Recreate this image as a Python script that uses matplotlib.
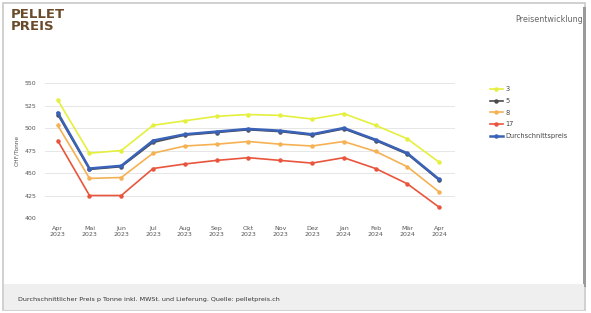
import matplotlib
matplotlib.use("Agg")
import matplotlib.pyplot as plt
from matplotlib.patches import Rectangle

months = ["Apr\n2023", "Mai\n2023", "Jun\n2023", "Jul\n2023", "Aug\n2023", "Sep\n2023",
          "Okt\n2023", "Nov\n2023", "Dez\n2023", "Jan\n2024", "Feb\n2024", "Mär\n2024", "Apr\n2024"]
s3 = [531, 472, 475, 503, 508, 513, 515, 514, 510, 516, 503, 488, 462]
s5 = [515, 454, 457, 484, 492, 495, 498, 496, 492, 499, 486, 471, 442]
s8 = [503, 444, 445, 472, 480, 482, 485, 482, 480, 485, 474, 457, 429]
s17 = [486, 425, 425, 455, 460, 464, 467, 464, 461, 467, 455, 438, 412]
avg = [517, 455, 458, 486, 493, 496, 499, 497, 493, 500, 487, 472, 443]
yticks = [400, 425, 450, 475, 500, 525, 550]

W, H = 591, 313
fig = plt.figure(figsize=(W / 100, H / 100), dpi=100)
fig.patch.set_facecolor("white")

# frame
fig.patches.append(Rectangle((3 / W, 3 / H), 582 / W, 307 / H, transform=fig.transFigure,
                             fill=False, edgecolor="#c8c8c8", linewidth=1.2))
fig.patches.append(Rectangle((583 / W, 26 / H), 2.5 / W, 280 / H, transform=fig.transFigure,
                             facecolor="#9a9a9a", edgecolor="none"))
# footer band
fig.patches.append(Rectangle((4 / W, 3 / H), 580 / W, 26 / H, transform=fig.transFigure,
                             facecolor="#efefef", edgecolor="none"))
fig.text(18 / W, 1 - 299 / H, "Durchschnittlicher Preis p Tonne inkl. MWSt. und Lieferung. Quelle: pelletpreis.ch",
         fontsize=4.6, color="#333333", va="center", ha="left")

# logo
fig.text(11 / W, 1 - 14 / H, "PELLET", fontsize=9.5, fontweight="heavy", color="#6b4a2a",
         va="center", ha="left", family="DejaVu Sans")
fig.text(11 / W, 1 - 27 / H, "PREIS", fontsize=9.5, fontweight="heavy", color="#6b4a2a",
         va="center", ha="left", family="DejaVu Sans")
fig.text(583 / W, 1 - 20 / H, "Preisentwicklung", fontsize=5.8, color="#666666",
         va="center", ha="right")

ax = fig.add_axes([45 / W, 1 - 218 / H, 410 / W, 135 / H])
x = list(range(len(months)))
ax.plot(x, s3, color="#e4f03c", marker="o", markersize=2.2, linewidth=1.2, label="3")
ax.plot(x, s5, color="#4a4a4a", marker="o", markersize=2.2, linewidth=1.2, label="5")
ax.plot(x, s8, color="#f5b152", marker="o", markersize=2.2, linewidth=1.2, label="8")
ax.plot(x, s17, color="#e9553c", marker="o", markersize=2.2, linewidth=1.2, label="17")
ax.plot(x, avg, color="#3a62b8", marker="o", markersize=2.2, linewidth=1.8, label="Durchschnittspreis")

ax.set_xlim(-0.4, 12.5)
ax.set_ylim(400, 550)
ax.set_yticks(yticks)
ax.set_yticklabels([str(v) for v in yticks], fontsize=4.5, color="#555555")
ax.set_xticks(x)
ax.set_xticklabels(months, fontsize=4.5, color="#555555")
ax.tick_params(length=0, pad=6)
ax.grid(axis="y", color="#e6e6e6", linewidth=0.7)
ax.set_axisbelow(True)
for sp in ax.spines.values():
    sp.set_visible(False)
ax.set_ylabel("CHF/Tonne", fontsize=4.2, color="#555555", labelpad=4)

leg = ax.legend(loc="upper left", bbox_to_anchor=(1.07, 1.02), frameon=False, fontsize=4.8,
                handlelength=2.0, labelspacing=0.85, handletextpad=0.4)
for t in leg.get_texts():
    t.set_color("#444444")

fig.savefig("out.png", dpi=100, facecolor="white")
